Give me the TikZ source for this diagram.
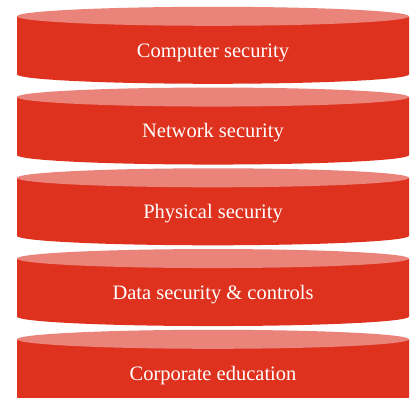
\documentclass[tikz,border=0pt]{standalone}
\usepackage{fontspec}
\setmainfont{Liberation Serif}
\usetikzlibrary{positioning}

\definecolor{layerred}{RGB}{222,50,31}
\definecolor{layertop}{RGB}{234,131,122}

\begin{document}
\begin{tikzpicture}[
    x=1pt, y=-1pt,
    body/.style={fill=layerred},
    lid/.style={fill=layertop},
    layertext/.style={text=white, anchor=base, font=\fontsize{20.5}{24}\selectfont}
]
\useasboundingbox (0,0) rectangle (417,398);
\clip (0,0) rectangle (417,398);
% one disc per layer, top to bottom
\foreach \i/\id/\txt in {0/computer/Computer security,
                         1/network/Network security,
                         2/physical/Physical security,
                         3/data/Data security \& controls,
                         4/education/Corporate education}{
  \pgfmathsetmacro{\ytop}{16.3+80.75*\i}
  \fill[body] (17,\ytop) -- (17,\ytop+58)
    arc[start angle=180, end angle=0, x radius=196, y radius=9.5]
    -- (409,\ytop) -- cycle;
  \fill[lid] (213,\ytop) ellipse[x radius=196, y radius=9.5];
  \node[layertext] (\id) at (213,\ytop+40.8) {\txt};
}
\end{tikzpicture}
\end{document}
